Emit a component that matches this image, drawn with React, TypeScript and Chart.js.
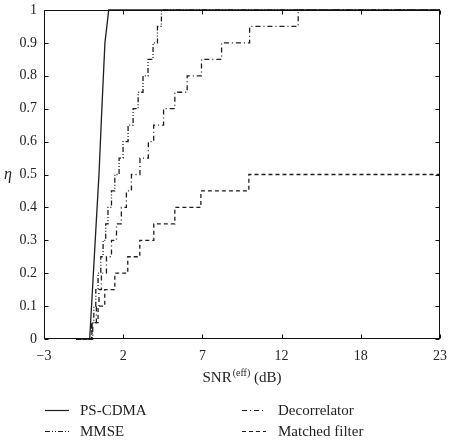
import React, { useEffect, useRef } from "react";
import { Chart, registerables } from "chart.js";

Chart.register(...registerables);

// ---- tick labels ----
const xTickValues = [-3, 2.2, 7.4, 12.6, 17.8, 23];
const xTickLabels = ["\u22123", "2", "7", "12", "18", "23"];

// ---- series (SNR in dB, eta) ----
const psX = [-0.9, 0.0, 0.4, 0.61, 0.77, 1.0, 1.25, 23];
const psY = [0, 0, 0.33, 0.5, 0.67, 0.9, 1, 1];

const mmseX = [-0.9, 0.13, 0.27, 0.4, 0.55, 0.73, 0.88, 1.05, 1.2, 1.43, 1.65, 1.93, 2.19, 2.52, 2.85, 3.18, 3.5, 3.83, 4.16, 4.45, 4.71, 23];
const mmseY = [0, 0.05, 0.1, 0.15, 0.2, 0.25, 0.3, 0.35, 0.4, 0.45, 0.5, 0.55, 0.6, 0.65, 0.7, 0.75, 0.8, 0.85, 0.9, 0.95, 1, 1];

const decX = [-0.9, 0.2, 0.44, 0.61, 0.77, 1.1, 1.43, 1.76, 2.08, 2.41, 2.74, 3.3, 3.85, 4.2, 4.85, 5.59, 6.4, 7.34, 8.66, 10.5, 13.69, 23];
const decY = [0, 0.05, 0.1, 0.15, 0.2, 0.25, 0.3, 0.35, 0.4, 0.45, 0.5, 0.55, 0.6, 0.65, 0.7, 0.75, 0.8, 0.85, 0.9, 0.95, 1, 1];

const mfX = [-0.9, 0.15, 0.55, 0.99, 1.65, 2.5, 3.29, 4.21, 5.59, 7.3, 10.45, 23];
const mfY = [0, 0.05, 0.1, 0.15, 0.2, 0.25, 0.3, 0.35, 0.4, 0.45, 0.5, 0.5];

const seriesNames = ["PS-CDMA", "MMSE", "Decorrelator", "Matched filter"];

const LINE = "#1e1e1e";
const FONT = "'Liberation Serif', 'DejaVu Serif', serif";

const dashes: number[][] = [[], [5, 2, 1, 2, 1, 2], [5, 3, 1, 3], [4, 3]];

const toPts = (xs: number[], ys: number[]) => xs.map((x, i) => ({ x, y: ys[i] }));

const zeroPad = (scale: any) => {
  scale.paddingTop = 0;
  scale.paddingBottom = 0;
  scale.paddingLeft = 0;
  scale.paddingRight = 0;
};

const decorPlugin = {
  id: "decor",
  afterDraw(chart: any) {
    const { ctx, chartArea: a, scales } = chart;
    const xs = scales.x;
    const ys = scales.y;
    ctx.save();
    ctx.strokeStyle = "#111";
    ctx.lineWidth = 1;
    const L = Math.round(a.left) + 0.5;
    const R = Math.round(a.right) - 0.5;
    const T = Math.round(a.top) + 0.5;
    const B = Math.round(a.bottom) - 0.5;
    ctx.strokeRect(L, T, R - L, B - T);
    ctx.beginPath();
    const tl = 4;
    xTickValues.forEach((v) => {
      const px = Math.round(xs.getPixelForValue(v)) + 0.5;
      ctx.moveTo(px, B);
      ctx.lineTo(px, B - tl);
      ctx.moveTo(px, T);
      ctx.lineTo(px, T + tl);
    });
    ys.ticks.forEach((t: any) => {
      const py = Math.round(ys.getPixelForValue(t.value)) + 0.5;
      ctx.moveTo(L, py);
      ctx.lineTo(L + tl, py);
      ctx.moveTo(R, py);
      ctx.lineTo(R - tl, py);
    });
    ctx.stroke();

    // y-axis label
    ctx.fillStyle = "#222";
    ctx.font = `italic 16px ${FONT}`;
    ctx.textAlign = "center";
    ctx.textBaseline = "alphabetic";
    ctx.fillText("\u03b7", 8, 179);

    // x-axis title with superscript
    const big = `15px ${FONT}`;
    const small = `10px ${FONT}`;
    ctx.font = big;
    const w1 = ctx.measureText("SNR").width;
    const w3 = ctx.measureText(" (dB)").width;
    ctx.font = small;
    const w2 = ctx.measureText("(eff)").width;
    const total = w1 + w2 + w3 + 1;
    let x = (a.left + a.right) / 2 - total / 2;
    const base = 382;
    ctx.textAlign = "left";
    ctx.font = big;
    ctx.fillText("SNR", x, base);
    x += w1 + 1;
    ctx.font = small;
    ctx.fillText("(eff)", x, base - 6);
    x += w2;
    ctx.font = big;
    ctx.fillText(" (dB)", x, base);

    // legend
    const items = [
      { name: seriesNames[0], dash: dashes[0], lx: 45, tx: 80, y: 410 },
      { name: seriesNames[1], dash: dashes[1], lx: 45, tx: 80, y: 431 },
      { name: seriesNames[2], dash: dashes[2], lx: 242, tx: 278, y: 410 },
      { name: seriesNames[3], dash: dashes[3], lx: 242, tx: 278, y: 431 },
    ];
    items.forEach((it) => {
      ctx.strokeStyle = LINE;
      ctx.lineWidth = 1.2;
      ctx.setLineDash(it.dash);
      ctx.beginPath();
      ctx.moveTo(it.lx, it.y + 0.5);
      ctx.lineTo(it.lx + 24, it.y + 0.5);
      ctx.stroke();
      ctx.setLineDash([]);
      ctx.font = big;
      ctx.fillStyle = "#222";
      ctx.textBaseline = "middle";
      ctx.fillText(it.name, it.tx, it.y + 1);
    });
    ctx.restore();
  },
};

export default function App() {
  const ref = useRef<HTMLCanvasElement | null>(null);
  useEffect(() => {
    if (!ref.current) return;
    const common = { pointRadius: 0, borderWidth: 1.3, borderColor: LINE, fill: false, tension: 0, clip: 3 };
    const chart = new Chart(ref.current, {
      type: "line",
      data: {
        datasets: [
          { ...common, label: seriesNames[0], data: toPts(psX, psY), borderDash: dashes[0] },
          { ...common, label: seriesNames[1], data: toPts(mmseX, mmseY), borderDash: dashes[1], stepped: "before" },
          { ...common, label: seriesNames[2], data: toPts(decX, decY), borderDash: dashes[2], stepped: "before" },
          { ...common, label: seriesNames[3], data: toPts(mfX, mfY), borderDash: dashes[3], stepped: "before" },
        ],
      } as any,
      options: {
        responsive: false,
        animation: false,
        devicePixelRatio: 1,
        layout: { padding: { left: 0, right: 11, top: 10, bottom: 0 } },
        plugins: { legend: { display: false }, tooltip: { enabled: false } },
        scales: {
          x: {
            type: "linear",
            min: -3,
            max: 23,
            grid: { display: false, drawTicks: false },
            border: { display: false },
            afterBuildTicks: (scale: any) => {
              scale.ticks = xTickValues.map((v) => ({ value: v }));
            },
            afterFit: (scale: any) => {
              scale.height = 101;
              zeroPad(scale);
            },
            ticks: {
              padding: 9,
              maxRotation: 0,
              autoSkip: false,
              color: "#222",
              font: { family: FONT, size: 14 },
              callback: (_v: any, i: number) => xTickLabels[i],
            },
          },
          y: {
            type: "linear",
            min: 0,
            max: 1,
            grid: { display: false, drawTicks: false },
            border: { display: false },
            afterFit: (scale: any) => {
              scale.width = 44;
              zeroPad(scale);
            },
            ticks: {
              stepSize: 0.1,
              padding: 7,
              color: "#222",
              font: { family: FONT, size: 14 },
              callback: (v: any) => String(Number(Number(v).toFixed(1))),
            },
          },
        },
      } as any,
      plugins: [decorPlugin],
    });
    return () => chart.destroy();
  }, []);
  return (
    <div style={{ position: "fixed", left: 0, top: 0, width: 451, height: 440, background: "#fff" }}>
      <canvas ref={ref} width={451} height={440} style={{ width: 451, height: 440, display: "block" }} />
    </div>
  );
}
